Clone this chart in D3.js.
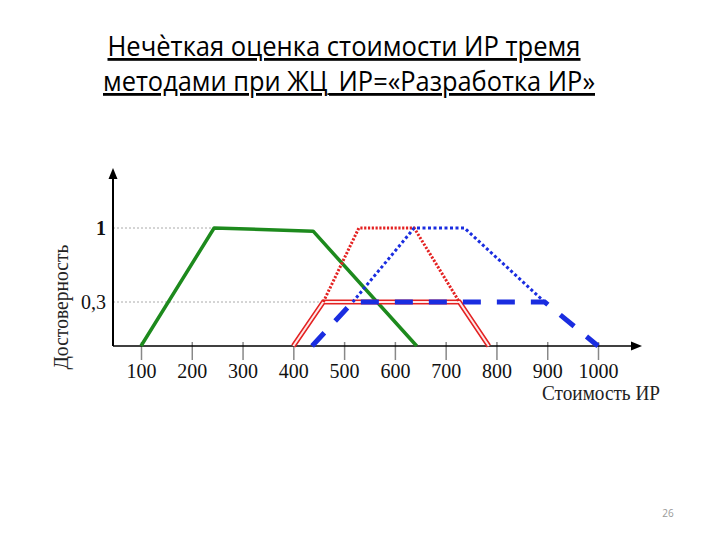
<!DOCTYPE html>
<html>
<head>
<meta charset="utf-8">
<script src="https://cdn.jsdelivr.net/npm/d3@7"></script>
<style>
  body { margin: 0; background: #fff; }
  svg { display: block; }
</style>
</head>
<body>
<script>
// ticks on the cost axis and the two confidence levels
var costTicks = [100, 200, 300, 400, 500, 600, 700, 800, 900, 1000];
var confLevels = [0.3, 1];
var confLabels = ['0,3', '1'];

// green solid - first method
var greenCost = [100, 244, 439, 643];
var greenConf = [0, 1, 0.97, 0];

// red double line (lower part) and red dotted (upper part)
var redCost = [400, 459, 727, 785];
var redConf = [0, 0.3, 0.3, 0];
var redDotCost = [459, 529, 638, 727];
var redDotConf = [0.3, 1, 1, 0.3];

// blue dashed (lower part) and blue dotted (upper part)
var blueCost = [437, 517, 895, 1000];
var blueConf = [0, 0.3, 0.3, 0];
var blueDotCost = [517, 638, 737, 895];
var blueDotConf = [0.3, 1, 1, 0.3];

var svg = d3.select('body').append('svg')
            .attr('width', 720)
            .attr('height', 540);

// title
var title = svg.append('g')
               .style('font-family', '"Open Sans", "Noto Sans", sans-serif')
               .style('font-size', '28px')
               .attr('fill', '#000')
               .attr('text-anchor', 'middle');
title.append('text').attr('x', 344).attr('y', 56)
     .attr('textLength', 473).attr('lengthAdjust', 'spacingAndGlyphs')
     .style('text-decoration', 'underline')
     .text('Нечѐткая оценка стоимости ИР тремя');
title.append('text').attr('x', 349).attr('y', 91)
     .attr('textLength', 492).attr('lengthAdjust', 'spacingAndGlyphs')
     .style('text-decoration', 'underline')
     .text('методами при ЖЦ_ИР=«Разработка ИР»');

var x = d3.scaleLinear().domain([100, 1000]).range([141, 598]);
var y = d3.scaleLinear().domain([0, 0.3, 1]).range([346, 302, 228]);
var x0 = 113;

var serif = '"Liberation Serif", "Times New Roman", serif';

// dotted guides to the levels
svg.append('line')
   .attr('x1', x0).attr('x2', x(greenCost[1]))
   .attr('y1', y(1)).attr('y2', y(1))
   .attr('stroke', '#aaa').attr('stroke-width', 1).attr('stroke-dasharray', '2,2');
svg.append('line')
   .attr('x1', x0).attr('x2', x(redCost[1]))
   .attr('y1', y(0.3)).attr('y2', y(0.3))
   .attr('stroke', '#aaa').attr('stroke-width', 1).attr('stroke-dasharray', '2,2');

// x axis ticks and labels
var xAxis = svg.append('g')
               .attr('transform', 'translate(0,' + y(0) + ')')
               .call(d3.axisBottom(x).tickValues(costTicks).tickFormat(d3.format('d'))
                       .tickSizeInner(14).tickSizeOuter(0).tickPadding(4));
xAxis.select('.domain').remove();
xAxis.selectAll('.tick line').attr('y1', -4).attr('stroke', '#888').attr('stroke-width', 1.5);
xAxis.selectAll('.tick text')
     .style('font-family', serif).style('font-size', '20px').attr('fill', '#111');

// y axis labels
var yAxis = svg.append('g')
               .attr('transform', 'translate(' + x0 + ',0)')
               .call(d3.axisLeft(y).tickValues(confLevels).tickSize(0).tickPadding(7)
                       .tickFormat(function(d, i) { return confLabels[i]; }));
yAxis.select('.domain').remove();
yAxis.selectAll('.tick text')
     .style('font-family', serif).style('font-size', '20px').attr('fill', '#111')
     .style('font-weight', function(d) { return d === 1 ? 'bold' : 'normal'; });

// axis lines with arrows
svg.append('line').attr('x1', x0).attr('x2', 636).attr('y1', y(0)).attr('y2', y(0))
   .attr('stroke', '#000').attr('stroke-width', 1.6);
svg.append('path').attr('d', 'M642,' + y(0) + 'L631,' + (y(0) - 4.5) + 'L631,' + (y(0) + 4.5) + 'Z')
   .attr('fill', '#000');
svg.append('line').attr('x1', x0).attr('x2', x0).attr('y1', y(0)).attr('y2', 176)
   .attr('stroke', '#000').attr('stroke-width', 2);
svg.append('path').attr('d', 'M' + x0 + ',168L' + (x0 - 4.5) + ',179L' + (x0 + 4.5) + ',179Z')
   .attr('fill', '#000');

// axis titles
svg.append('text')
   .attr('transform', 'translate(68,307) rotate(-90)')
   .attr('text-anchor', 'middle')
   .style('font-family', serif).style('font-size', '21px').attr('fill', '#222')
   .attr('textLength', 125).attr('lengthAdjust', 'spacingAndGlyphs')
   .text('Достоверность');
svg.append('text')
   .attr('x', 542).attr('y', 400)
   .style('font-family', serif).style('font-size', '20px').attr('fill', '#222')
   .attr('textLength', 118).attr('lengthAdjust', 'spacingAndGlyphs')
   .text('Стоимость ИР');

var line = d3.line()
             .x(function(d) { return x(d[0]); })
             .y(function(d) { return y(d[1]); });

function pts(cs, vs) {
  return cs.map(function(c, i) { return [c, vs[i]]; });
}

// green
svg.append('path').datum(pts(greenCost, greenConf))
   .attr('d', line).attr('fill', 'none')
   .attr('stroke', '#1d8a1d').attr('stroke-width', 3.5).attr('stroke-linejoin', 'round');

// red double line
svg.append('path').datum(pts(redCost, redConf))
   .attr('d', line).attr('fill', 'none')
   .attr('stroke', '#e42222').attr('stroke-width', 5);
svg.append('path').datum(pts(redCost, redConf))
   .attr('d', line).attr('fill', 'none')
   .attr('stroke', '#fde8e8').attr('stroke-width', 2);

// red dotted
svg.append('path').datum(pts(redDotCost, redDotConf))
   .attr('d', line).attr('fill', 'none')
   .attr('stroke', '#e42222').attr('stroke-width', 3).attr('stroke-dasharray', '2.2,1.6');

// blue dotted
svg.append('path').datum(pts(blueDotCost, blueDotConf))
   .attr('d', line).attr('fill', 'none')
   .attr('stroke', '#1a2de0').attr('stroke-width', 3).attr('stroke-dasharray', '3,2.5');

// blue dashed
svg.append('path').datum(pts(blueCost, blueConf))
   .attr('d', line).attr('fill', 'none')
   .attr('stroke', '#1a2de0').attr('stroke-width', 5).attr('stroke-dasharray', '18,16');

// page number
svg.append('text')
   .attr('x', 668).attr('y', 517).attr('text-anchor', 'middle')
   .style('font-family', '"Open Sans", sans-serif').style('font-size', '10px').attr('fill', '#999')
   .text('26');
</script>
</body>
</html>
